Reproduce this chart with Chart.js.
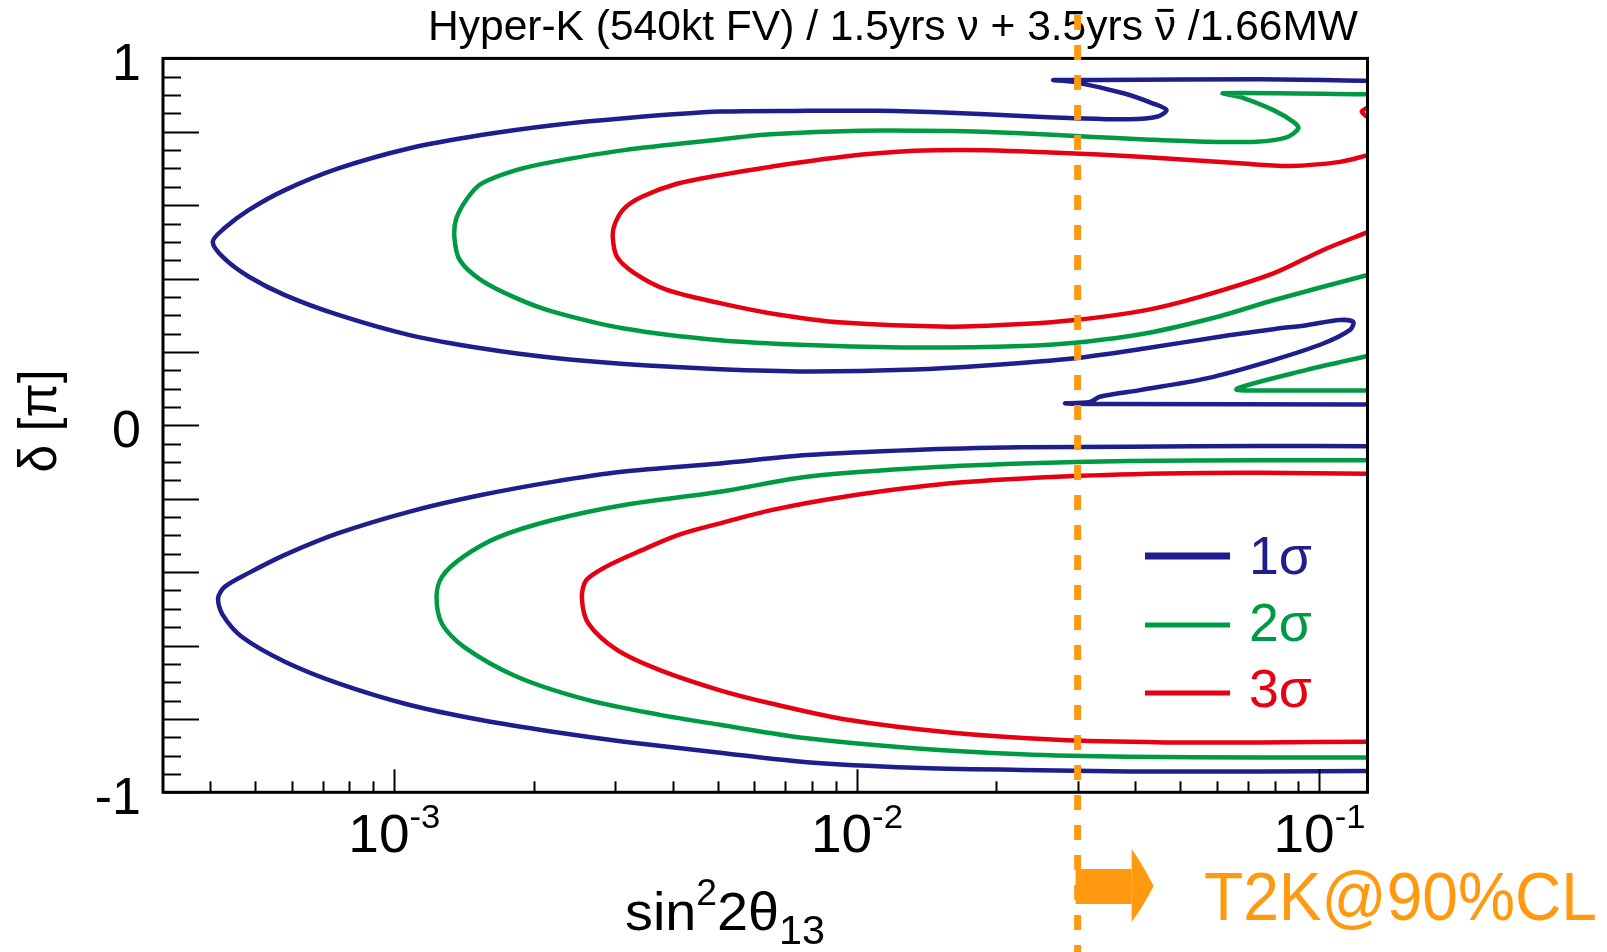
<!DOCTYPE html>
<html>
<head>
<meta charset="utf-8">
<script src="https://cdn.jsdelivr.net/npm/chart.js@4.4.1/dist/chart.umd.min.js"></script>
<style>
  html, body { margin: 0; padding: 0; background: #fff; }
  #wrap { width: 1607px; height: 952px; }
</style>
</head>
<body>
<div id="wrap"><canvas id="chart-dcp" width="1607" height="952"></canvas></div>
<script>
// sin^2 2theta13 vs delta [pi] contours
const sigmaLabels = ["1σ", "2σ", "3σ"];
const sigmaColors = ["#1e1e8c", "#009a44", "#e60012"];

const sig1Upper = [
  [0.128, 0.939], [0.0744, 0.943], [0.0335, 0.941], [0.0266, 0.941],
  [0.0294, 0.936], [0.0377, 0.905], [0.0437, 0.877], [0.0467, 0.859],
  [0.0445, 0.841], [0.0387, 0.834], [0.0296, 0.837], [0.0227, 0.843],
  [0.0159, 0.852], [0.0111, 0.857], [0.0078, 0.857], [0.00506, 0.855],
  [0.00314, 0.837], [0.0022, 0.818], [0.00154, 0.791], [0.00108, 0.755],
  [0.000757, 0.700], [0.00058, 0.641], [0.000485, 0.587], [0.000429, 0.537],
  [0.000405, 0.500], [0.000429, 0.455], [0.000485, 0.405], [0.00058, 0.355],
  [0.000757, 0.301], [0.00108, 0.246], [0.00154, 0.210], [0.0022, 0.184],
  [0.00314, 0.167], [0.00506, 0.153], [0.0078, 0.147], [0.0133, 0.152],
  [0.019, 0.163], [0.0296, 0.183], [0.0422, 0.210], [0.0603, 0.241],
  [0.0795, 0.262], [0.0938, 0.273], [0.1107, 0.287], [0.1183, 0.282],
  [0.1164, 0.260], [0.1019, 0.223], [0.0795, 0.178], [0.057, 0.128],
  [0.0409, 0.096], [0.0335, 0.078], [0.0319, 0.064], [0.0282, 0.060],
  [0.0347, 0.058], [0.128, 0.057]
];
const sig1Lower = [
  [0.128, -0.057], [0.0744, -0.056], [0.0387, -0.058], [0.0227, -0.060],
  [0.0133, -0.067], [0.0078, -0.081], [0.00506, -0.104], [0.00314, -0.126],
  [0.0022, -0.154], [0.00154, -0.190], [0.00108, -0.235], [0.000757, -0.294],
  [0.00058, -0.353], [0.000485, -0.402], [0.000430, -0.440], [0.000416, -0.471],
  [0.000425, -0.515], [0.000468, -0.576], [0.00058, -0.644], [0.000757, -0.703],
  [0.00108, -0.762], [0.00154, -0.803], [0.0022, -0.835], [0.00314, -0.862],
  [0.00506, -0.892], [0.0078, -0.918], [0.0133, -0.933], [0.0227, -0.939],
  [0.0387, -0.943], [0.0744, -0.943], [0.128, -0.942]
];
const sig2Upper = [
  [0.128, 0.902], [0.0619, 0.905], [0.0673, 0.895], [0.0795, 0.859],
  [0.0878, 0.827], [0.0900, 0.809], [0.0849, 0.785], [0.0731, 0.773],
  [0.057, 0.773], [0.0409, 0.780], [0.0324, 0.786], [0.0227, 0.796],
  [0.0159, 0.802], [0.0102, 0.803], [0.0065, 0.793], [0.00506, 0.779],
  [0.00314, 0.750], [0.0022, 0.718], [0.00184, 0.696], [0.00154, 0.658],
  [0.001435, 0.617], [0.001361, 0.563], [0.001349, 0.510], [0.001386, 0.450],
  [0.00154, 0.396], [0.00184, 0.346], [0.0022, 0.310], [0.00314, 0.264],
  [0.00506, 0.232], [0.0078, 0.219], [0.0133, 0.212], [0.0227, 0.216],
  [0.0296, 0.225], [0.0422, 0.251], [0.0603, 0.296], [0.0795, 0.341],
  [0.128, 0.411]
];
const sig2Hook = [
  [0.128, 0.190], [0.0938, 0.151], [0.0662, 0.099], [0.0795, 0.095], [0.128, 0.095]
];
const sig2Lower = [
  [0.128, -0.095], [0.0744, -0.095], [0.0387, -0.097], [0.0227, -0.104],
  [0.0133, -0.117], [0.0078, -0.140], [0.00506, -0.181], [0.00314, -0.217],
  [0.0022, -0.258], [0.001684, -0.304], [0.001411, -0.358], [0.001267, -0.413],
  [0.001234, -0.467], [0.001267, -0.540], [0.001411, -0.603], [0.001841, -0.685],
  [0.002628, -0.749], [0.00375, -0.789], [0.00506, -0.816], [0.0078, -0.853],
  [0.0133, -0.880], [0.0227, -0.896], [0.0387, -0.903], [0.0744, -0.905],
  [0.128, -0.905]
];
const sig3Upper = [
  [0.128, 0.737], [0.1107, 0.718], [0.0863, 0.707], [0.0673, 0.714],
  [0.0409, 0.732], [0.0271, 0.743], [0.019, 0.750], [0.0133, 0.748],
  [0.00932, 0.732], [0.00653, 0.705], [0.00506, 0.682], [0.0041, 0.659],
  [0.00343, 0.623], [0.00314, 0.591], [0.0030, 0.550], [0.002966, 0.514],
  [0.00303, 0.459], [0.00331, 0.414], [0.003885, 0.369], [0.00506, 0.333],
  [0.00653, 0.305], [0.00932, 0.280], [0.0159, 0.269], [0.0227, 0.276],
  [0.0296, 0.287], [0.0422, 0.314], [0.0551, 0.350], [0.0795, 0.414],
  [0.1019, 0.478], [0.128, 0.528]
];
const sig3Blob = [[0.128, 0.868], [0.1234, 0.855], [0.128, 0.837]];
const sig3Lower = [
  [0.128, -0.132], [0.0744, -0.129], [0.0462, -0.131], [0.0271, -0.140],
  [0.0159, -0.158], [0.00932, -0.195], [0.00653, -0.231], [0.00506, -0.267],
  [0.0041, -0.299], [0.00343, -0.340], [0.00287, -0.385], [0.0026, -0.422],
  [0.002544, -0.471], [0.002628, -0.540], [0.00303, -0.612], [0.00375, -0.667],
  [0.00506, -0.722], [0.00653, -0.758], [0.00932, -0.800], [0.0159, -0.837],
  [0.0271, -0.857], [0.0462, -0.864], [0.0744, -0.864], [0.128, -0.862]
];

const xMin = 3.162e-4;
const xMax = 0.127;
const xMajorTicks = [1e-3, 1e-2, 1e-1];
const xTickExponents = ["-3", "-2", "-1"];
const yTickValues = [1, 0, -1];
const yTickLabels = ["1", "0", "-1"];
const t2kLimit = 0.03;

const FONT = '"Liberation Sans", Arial, sans-serif';

function toPoints(arr) {
  return arr.map(p => ({ x: p[0], y: p[1] }));
}

function contour(arr, idx, withLabel) {
  return {
    label: withLabel ? sigmaLabels[idx] : "",
    data: toPoints(arr),
    showLine: true,
    borderColor: sigmaColors[idx],
    backgroundColor: sigmaColors[idx],
    borderWidth: 4.5,
    pointRadius: 0,
    tension: 0.3,
    fill: false,
  };
}

// draw runs of text (sup/sub) squeezed to a target width
function drawRuns(ctx, runs, x, y, width, align, color) {
  let total = 0;
  runs.forEach(r => {
    ctx.font = r.size + "px " + FONT;
    r.w = ctx.measureText(r.t).width;
    total += r.w;
  });
  const s = width ? width / total : 1;
  let x0 = align === "center" ? x - total * s / 2 : x;
  ctx.save();
  ctx.fillStyle = color || "#000";
  ctx.textAlign = "left";
  ctx.textBaseline = "alphabetic";
  ctx.translate(x0, y);
  ctx.scale(s, 1);
  let cx = 0;
  runs.forEach(r => {
    ctx.font = r.size + "px " + FONT;
    ctx.fillText(r.t, cx, r.dy || 0);
    if (r.bar) {
      // bar over nu for anti-neutrino
      ctx.fillRect(cx + r.w * 0.12, -r.size * 0.74, r.w * 0.76, r.size * 0.07);
    }
    cx += r.w;
  });
  ctx.restore();
}

const frameAndLabels = {
  id: "frameAndLabels",
  afterDraw(chart) {
    const ctx = chart.ctx;
    const xs = chart.scales.x, ys = chart.scales.y;
    const a = chart.chartArea;

    ctx.save();
    ctx.strokeStyle = "#000";
    ctx.lineWidth = 2;

    // y ticks (inward, ROOT style)
    for (let i = -20; i <= 20; i++) {
      const v = i * 0.05;
      const py = Math.round(ys.getPixelForValue(v)) + 0.5;
      const len = (i % 4 === 0) ? 36 : 18;
      ctx.beginPath();
      ctx.moveTo(a.left, py);
      ctx.lineTo(a.left + len, py);
      ctx.stroke();
    }
    // x ticks
    for (let d = -4; d <= -1; d++) {
      for (let k = 1; k <= 9; k++) {
        const v = k * Math.pow(10, d);
        if (v < xMin || v > xMax) continue;
        const px = Math.round(xs.getPixelForValue(v)) + 0.5;
        const len = k === 1 ? 23 : 11;
        ctx.beginPath();
        ctx.moveTo(px, a.bottom);
        ctx.lineTo(px, a.bottom - len);
        ctx.stroke();
      }
    }
    // frame
    ctx.lineWidth = 3;
    ctx.strokeRect(a.left, a.top, a.right - a.left, a.bottom - a.top);

    // y tick labels
    ctx.fillStyle = "#000";
    yTickValues.forEach((v, i) => {
      const py = ys.getPixelForValue(v);
      ctx.font = "52px " + FONT;
      ctx.textAlign = "right";
      ctx.textBaseline = "alphabetic";
      ctx.fillText(yTickLabels[i], 141, py + 22);
    });
    // x tick labels 10^n
    xMajorTicks.forEach((v, i) => {
      const px = xs.getPixelForValue(v);
      drawRuns(ctx, [
        { t: "10", size: 54 },
        { t: xTickExponents[i], size: 34, dy: -24 }
      ], px, 852, 92, "center");
    });
    // axis titles
    drawRuns(ctx, [
      { t: "sin", size: 54 },
      { t: "2", size: 36, dy: -25 },
      { t: "2θ", size: 54 },
      { t: "13", size: 40, dy: 14 }
    ], 625, 930, 200, "left");

    ctx.save();
    ctx.translate(56, 421);
    ctx.rotate(-Math.PI / 2);
    drawRuns(ctx, [{ t: "δ [π]", size: 54 }], 0, 0, 103, "center");
    ctx.restore();

    // title
    drawRuns(ctx, [
      { t: "Hyper-K (540kt FV) / 1.5yrs ν + 3.5yrs ", size: 42 },
      { t: "ν", size: 42, bar: true },
      { t: " /1.66MW", size: 42 }
    ], 428, 40, 930, "left");

    // legend
    const legY = [556, 625, 693];
    const legW = [7, 5, 5];
    const legText = [574, 641, 707];
    sigmaLabels.forEach((lab, i) => {
      ctx.strokeStyle = sigmaColors[i];
      ctx.lineWidth = legW[i];
      ctx.beginPath();
      ctx.moveTo(1145, legY[i]);
      ctx.lineTo(1230, legY[i]);
      ctx.stroke();
      drawRuns(ctx, [{ t: lab, size: 53 }], 1249, legText[i], 63, "left", sigmaColors[i]);
    });

    // T2K 90% CL dashed line + arrow
    const orange = "#ff9a10";
    const tx = xs.getPixelForValue(t2kLimit);
    ctx.strokeStyle = orange;
    ctx.lineWidth = 7;
    ctx.setLineDash([15, 15]);
    ctx.beginPath();
    ctx.moveTo(tx, 15);
    ctx.lineTo(tx, 952);
    ctx.stroke();
    ctx.setLineDash([]);

    ctx.fillStyle = orange;
    ctx.fillRect(tx - 2, 869, 56, 35);
    ctx.beginPath();
    ctx.moveTo(tx + 54, 849);
    ctx.quadraticCurveTo(tx + 66, 866, tx + 76, 886);
    ctx.quadraticCurveTo(tx + 66, 906, tx + 54, 922);
    ctx.closePath();
    ctx.fill();
    drawRuns(ctx, [{ t: "T2K@90%CL", size: 68 }], 1204, 920, 393, "left", orange);

    ctx.restore();
  }
};

const dataDcp = {
  datasets: [
    contour(sig1Upper, 0, true),
    contour(sig1Lower, 0, false),
    contour(sig2Upper, 1, true),
    contour(sig2Hook, 1, false),
    contour(sig2Lower, 1, false),
    contour(sig3Upper, 2, true),
    contour(sig3Blob, 2, false),
    contour(sig3Lower, 2, false),
  ],
};

const configDcp = {
  type: "scatter",
  data: dataDcp,
  options: {
    responsive: false,
    animation: false,
    devicePixelRatio: 1,
    layout: {
      padding: { left: 163, right: 239.5, top: 58.4, bottom: 159.7 },
    },
    scales: {
      x: { type: "logarithmic", bounds: "data", min: xMin, max: xMax, display: false },
      y: { type: "linear", bounds: "data", min: -1, max: 1, display: false },
    },
    plugins: {
      legend: { display: false },
      tooltip: { enabled: false },
    },
  },
  plugins: [frameAndLabels],
};

new Chart(document.getElementById("chart-dcp"), configDcp);
</script>
</body>
</html>
